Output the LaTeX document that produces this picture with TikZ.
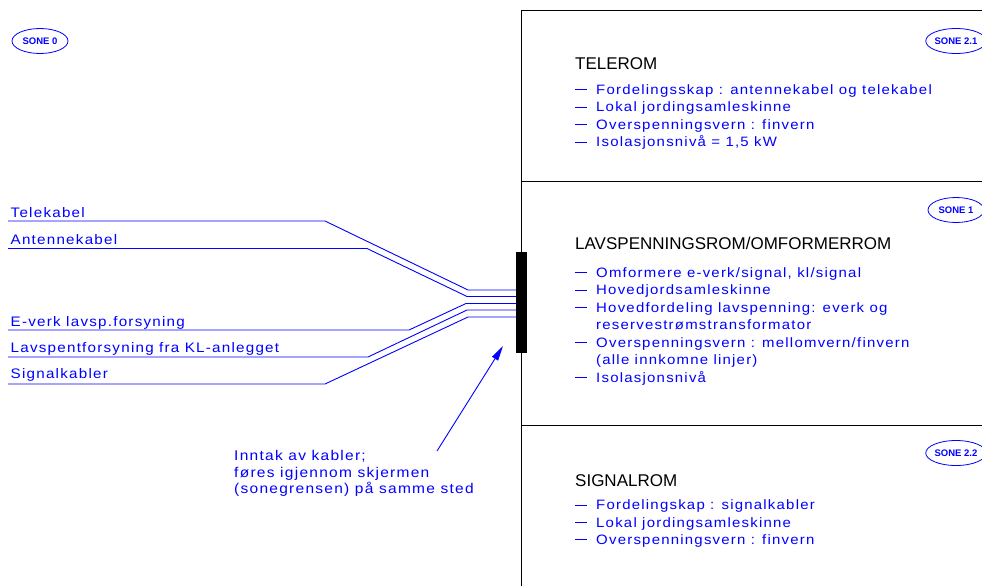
\documentclass[tikz,border=0pt]{standalone}
\usepackage{fontspec}
\setmainfont{Liberation Sans}
\newfontfamily\cadfont[FakeStretch=1.1,LetterSpace=9]{Liberation Sans}
\usetikzlibrary{arrows.meta,shapes.geometric}
\definecolor{cadblue}{RGB}{0,0,255}
\newcommand\dashitem{\makebox[21pt][l]{\rule[3.8pt]{12pt}{0.9pt}}}
\begin{document}
\begin{tikzpicture}[x=1pt,y=-1pt,
  frame/.style={draw=black,line width=1pt},
  cable/.style={draw=cadblue,line width=0.9pt},
  item/.style={text=cadblue,font=\cadfont\fontsize{13.6}{16}\selectfont,anchor=base west,inner sep=0pt},
  note/.style={text=cadblue,font=\cadfont\fontsize{14.1}{16}\selectfont,anchor=base west,inner sep=0pt},
  lbl/.style={text=cadblue,font=\cadfont\fontsize{13.8}{16}\selectfont,anchor=base west,inner sep=0pt},
  head/.style={text=black,font=\fontsize{17}{20}\selectfont,anchor=base west,inner sep=0pt},
  sone/.style={ellipse,draw=cadblue,line width=0.8pt,text=cadblue,minimum width=56pt,minimum height=25pt,inner sep=0pt,font=\bfseries\fontsize{9.5}{10}\selectfont}]
\useasboundingbox (0,0) rectangle (982,586);

% frame lines
\coordinate (vbot) at (521,586);
\coordinate (vtop) at (521,11);
\coordinate (rtop) at (982,11);
\coordinate (m1l) at (521,181);
\coordinate (m1r) at (982,181);
\coordinate (m2l) at (521,425);
\coordinate (m2r) at (982,425);
\draw[frame] (vbot) -- (vtop) -- (rtop);
\draw[frame] (m1l) -- (m1r);
\draw[frame] (m2l) -- (m2r);

% zone badges
\node[sone] (s0) at (40,41) {SONE 0};
\node[sone] (s21) at (956,41) {SONE 2.1};
\node[sone] (s1) at (956,210) {SONE 1};
\node[sone] (s22) at (956,453) {SONE 2.2};

% cables
\coordinate (a0) at (8,221);   \coordinate (a1) at (325,221); \coordinate (a2) at (468,290);   \coordinate (a3) at (521,290);
\coordinate (b0) at (8,248.5); \coordinate (b1) at (367,248.5); \coordinate (b2) at (467,296.5); \coordinate (b3) at (521,296.5);
\coordinate (c0) at (8,330);   \coordinate (c1) at (409,330); \coordinate (c2) at (466,303.5); \coordinate (c3) at (521,303.5);
\coordinate (d0) at (8,357);   \coordinate (d1) at (368,357); \coordinate (d2) at (467,310);   \coordinate (d3) at (521,310);
\coordinate (e0) at (8,384);   \coordinate (e1) at (325,384); \coordinate (e2) at (468,317);   \coordinate (e3) at (521,317);
\draw[cable] (a0) -- (a1) -- (a2) -- (a3);
\draw[cable] (b0) -- (b1) -- (b2) -- (b3);
\draw[cable] (c0) -- (c1) -- (c2) -- (c3);
\draw[cable] (d0) -- (d1) -- (d2) -- (d3);
\draw[cable] (e0) -- (e1) -- (e2) -- (e3);

\node[lbl] (la) at (10.5,217) {Telekabel};
\node[lbl] (lb) at (10.5,244.5) {Antennekabel};
\node[lbl] (lc) at (10.5,326) {E-verk lavsp.forsyning};
\node[lbl] (ld) at (10.5,352.5) {Lavspentforsyning fra KL-anlegget};
\node[lbl] (le) at (10.5,378.5) {Signalkabler};

% entry bar
\node[fill=black,minimum width=11pt,minimum height=101pt,inner sep=0pt] (bar) at (521.5,302.5) {};

% arrow
\coordinate (atail) at (437,451);
\coordinate (atip) at (503,346);
\draw[cable,-{Triangle[length=15pt,width=7pt]}] (atail) -- (atip);
\node[note] (n1) at (234,460.7) {Inntak av kabler;};
\node[note] (n2) at (234,477.5) {føres igjennom skjermen};
\node[note] (n3) at (234,493.5) {(sonegrensen) på samme sted};

% TELEROM
\node[head] (h1) at (575,70) {TELEROM};
\node[item] (t1) at (575,94) {\dashitem Fordelingsskap : antennekabel og telekabel};
\node[item] (t2) at (575,111.5) {\dashitem Lokal jordingsamleskinne};
\node[item] (t3) at (575,129) {\dashitem Overspenningsvern : finvern};
\node[item] (t4) at (575,146.5) {\dashitem Isolasjonsnivå = 1,5 kW};

% LAVSPENNINGSROM
\node[head] (h2) at (575,249) {LAVSPENNINGSROM/OMFORMERROM};
\node[item] (l1) at (575,277) {\dashitem Omformere e-verk/signal, kl/signal};
\node[item] (l2) at (575,294.5) {\dashitem Hovedjordsamleskinne};
\node[item] (l3) at (575,312) {\dashitem Hovedfordeling lavspenning: everk og};
\node[item] (l4) at (596,329.5) {reservestrømstransformator};
\node[item] (l5) at (575,347) {\dashitem Overspenningsvern : mellomvern/finvern};
\node[item] (l6) at (596,364.5) {(alle innkomne linjer)};
\node[item] (l7) at (575,382) {\dashitem Isolasjonsnivå};

% SIGNALROM
\node[head] (h3) at (575,486) {SIGNALROM};
\node[item] (g1) at (575,509.5) {\dashitem Fordelingskap : signalkabler};
\node[item] (g2) at (575,527) {\dashitem Lokal jordingsamleskinne};
\node[item] (g3) at (575,544) {\dashitem Overspenningsvern : finvern};
\end{tikzpicture}
\end{document}
